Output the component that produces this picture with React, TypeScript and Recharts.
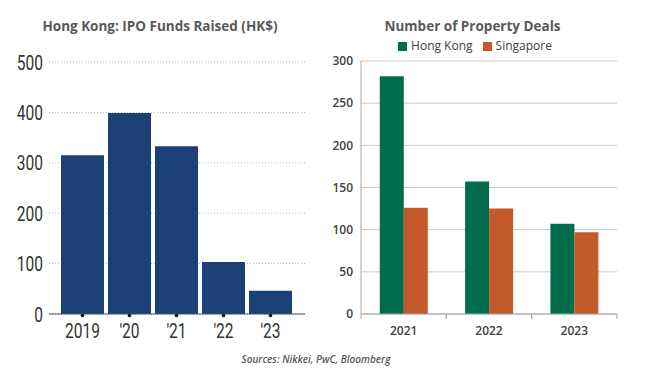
import { BarChart, Bar, XAxis, YAxis, CartesianGrid, Legend } from 'recharts';

// Left chart: Hong Kong IPO funds raised (HK$ bn)
const ipoYears = ['2019', "'20", "'21", "'22", "'23"];
const ipoFunds = [315, 399, 333, 103, 46];
const ipoTicks = [0, 100, 200, 300, 400, 500];

// Right chart: number of property deals
const dealYears = ['2021', '2022', '2023'];
const hongKongDeals = [282, 157, 107];
const singaporeDeals = [126, 125, 97];
const dealTicks = [0, 50, 100, 150, 200, 250, 300];

const ipoData = ipoYears.map((year, i) => ({ year, funds: ipoFunds[i] }));
const dealData = dealYears.map((year, i) => ({ year, hk: hongKongDeals[i], sg: singaporeDeals[i] }));

const NAVY = '#1b4176';
const GREEN = '#006c4b';
const ORANGE = '#c4592a';
const narrow = 'Roboto, sans-serif';
const sans = '"Open Sans", "Noto Sans", sans-serif';

// tall condensed digits like the source graphic
const NarrowText = ({ x, y, anchor, children }: any) => (
  <text
    transform={`translate(${x},${y}) scale(0.74,1)`}
    textAnchor={anchor}
    fontFamily={narrow}
    fontSize={21}
    fill="#333"
  >
    {children}
  </text>
);

const IpoYTick = (props: any) => {
  const { x, y, payload } = props;
  return <NarrowText x={x} y={y + 7.5} anchor="end">{payload.value}</NarrowText>;
};

const IpoTick = (props: any) => {
  const { x, y, payload } = props;
  return (
    <g>
      <circle cx={x} cy={y - 6.5} r={1.8} fill="#111" />
      <NarrowText x={x} y={y + 16} anchor="middle">{payload.value}</NarrowText>
    </g>
  );
};

const DealTick = (props: any) => {
  const { x, y, payload } = props;
  const half = 256 / 3 / 2;
  return (
    <g>
      <line x1={x - half} x2={x - half} y1={y - 8} y2={y - 3} stroke="#a6a6a6" />
      <line x1={x + half} x2={x + half} y1={y - 8} y2={y - 3} stroke="#a6a6a6" />
      <text x={x} y={y + 13} textAnchor="middle" fontFamily={sans} fontWeight={600} fontSize={12} fill="#404040">
        {payload.value}
      </text>
    </g>
  );
};

export default function App() {
  return (
    <div style={{ position: 'absolute', left: 0, top: 0, width: 649, height: 378, background: '#fff', fontFamily: sans }}>
      <div style={{ position: 'absolute', left: 0, width: 320, top: 17, textAlign: 'center', fontSize: 13.5, fontWeight: 700, color: '#595959' }}>
        Hong Kong: IPO Funds Raised (HK$)
      </div>
      <div style={{ position: 'absolute', left: 320, width: 305, top: 17, textAlign: 'center', fontSize: 13.5, fontWeight: 700, color: '#595959' }}>
        Number of Property Deals
      </div>

      <div style={{ position: 'absolute', left: 0, top: 0 }}>
        <BarChart width={320} height={378} data={ipoData} margin={{ top: 62, right: 15, bottom: 34, left: 0 }} barCategoryGap={2}>
          <CartesianGrid vertical={false} stroke="#b5b5b5" strokeDasharray="1 2" />
          <YAxis width={49} domain={[0, 500]} ticks={ipoTicks} axisLine={false} tickLine={false} tickMargin={0} tick={<IpoYTick />} />
          <XAxis dataKey="year" axisLine={{ stroke: '#555' }} tickLine={false} tick={<IpoTick />} padding={{ left: 10, right: 11 }} interval={0} />
          <Bar dataKey="funds" fill={NAVY} isAnimationActive={false} />
        </BarChart>
      </div>

      <div style={{ position: 'absolute', left: 320, top: 0 }}>
        <BarChart width={329} height={378} data={dealData} margin={{ top: 44, right: 32, bottom: 34, left: 0 }} barCategoryGap="22%" barGap={0}>
          <CartesianGrid vertical={false} stroke="#c8c8c8" />
          <Legend
            verticalAlign="top"
            align="center"
            iconType="square"
            iconSize={9}
            wrapperStyle={{ top: 37, left: 35, width: 250, fontSize: 12, fontFamily: sans }}
            formatter={(value: string) => <span style={{ color: '#404040' }}>{value}</span>}
          />
          <YAxis
            width={41}
            domain={[0, 300]}
            ticks={dealTicks}
            axisLine={{ stroke: '#a6a6a6' }}
            tickLine={false}
            tick={{ fontFamily: sans, fontWeight: 600, fontSize: 12, fill: '#404040' }}
          />
          <XAxis dataKey="year" axisLine={{ stroke: '#a6a6a6' }} tickLine={false} tick={<DealTick />} interval={0} />
          <Bar dataKey="hk" name="Hong Kong" fill={GREEN} isAnimationActive={false} />
          <Bar dataKey="sg" name="Singapore" fill={ORANGE} isAnimationActive={false} />
        </BarChart>
      </div>

      <div style={{ position: 'absolute', left: 0, width: 632, top: 352, textAlign: 'center', fontSize: 10, fontStyle: 'italic', fontWeight: 600, color: '#595959' }}>
        Sources: Nikkei, PwC, Bloomberg
      </div>
    </div>
  );
}
